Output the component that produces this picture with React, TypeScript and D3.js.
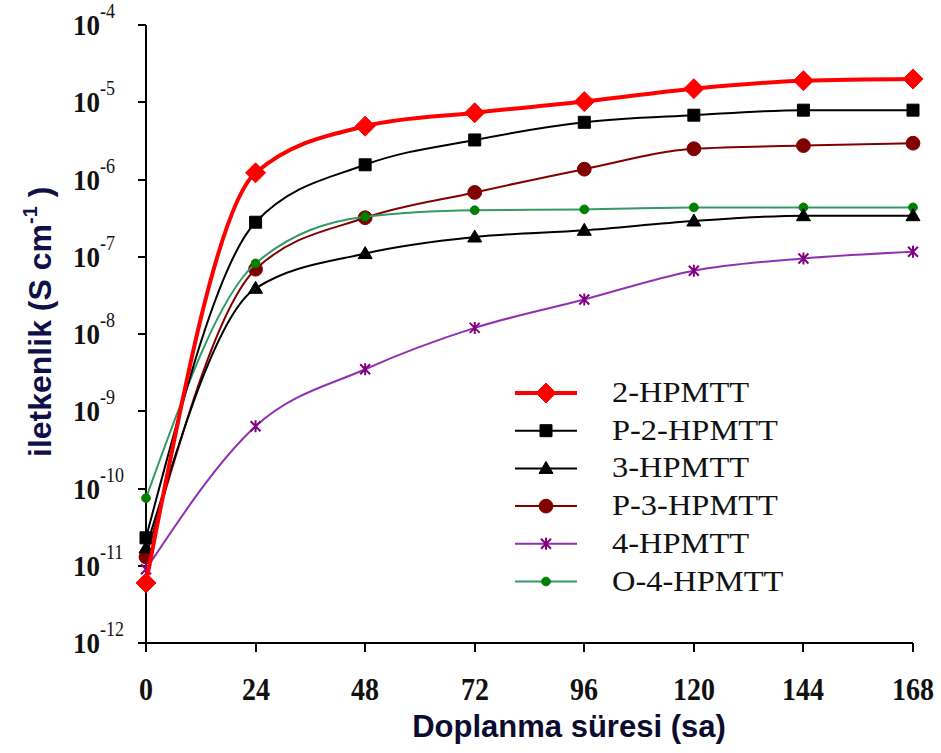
import { useEffect, useRef } from "react"
import * as d3 from "d3"

// doping time (h)
const hours = [0, 24, 48, 72, 96, 120, 144, 168]

// conductivity values (S cm-1)
const s2HPMTT = [6.0e-12, 1.22e-6, 4.9e-6, 7.3e-6, 1.02e-5, 1.5e-5, 1.9e-5, 2.0e-5]
const sP2HPMTT = [2.3e-11, 2.8e-7, 1.55e-6, 3.25e-6, 5.5e-6, 6.8e-6, 7.9e-6, 7.9e-6]
const s3HPMTT = [1.7e-11, 3.9e-8, 1.1e-7, 1.8e-7, 2.2e-7, 2.9e-7, 3.4e-7, 3.4e-7]
const sP3HPMTT = [1.3e-11, 6.9e-8, 3.2e-7, 6.8e-7, 1.36e-6, 2.5e-6, 2.75e-6, 2.95e-6]
const s4HPMTT = [9.0e-12, 6.4e-10, 3.5e-9, 1.2e-8, 2.8e-8, 6.6e-8, 9.5e-8, 1.16e-7]
const sO4HPMTT = [7.5e-11, 8.2e-8, 3.3e-7, 4.0e-7, 4.1e-7, 4.35e-7, 4.35e-7, 4.35e-7]

const yExponents = [-4, -5, -6, -7, -8, -9, -10, -11, -12]

type Marker = "diamond" | "square" | "triangle" | "octagon" | "star" | "dot"

const series: { name: string; values: number[]; line: string; fill: string; width: number; marker: Marker }[] = [
  { name: "2-HPMTT", values: s2HPMTT, line: "#ff0000", fill: "#ff0000", width: 4, marker: "diamond" },
  { name: "P-2-HPMTT", values: sP2HPMTT, line: "#000000", fill: "#000000", width: 2, marker: "square" },
  { name: "3-HPMTT", values: s3HPMTT, line: "#000000", fill: "#000000", width: 2, marker: "triangle" },
  { name: "P-3-HPMTT", values: sP3HPMTT, line: "#800000", fill: "#800000", width: 2, marker: "octagon" },
  { name: "4-HPMTT", values: s4HPMTT, line: "#9030b0", fill: "#800080", width: 2, marker: "star" },
  { name: "O-4-HPMTT", values: sO4HPMTT, line: "#339966", fill: "#008000", width: 2, marker: "dot" },
]

// drawing order (red ends on top)
const drawOrder = [3, 5, 2, 4, 1, 0]

function markerPath(m: Marker) {
  switch (m) {
    case "diamond":
      return "M0,-10L10,0L0,10L-10,0Z"
    case "square":
      return "M-6,-6H6V6H-6Z"
    case "triangle":
      return "M0,-7L7,5H-7Z"
    case "octagon":
      return d3.symbol(d3.symbolCircle, 150)()!
    case "dot":
      return d3.symbol(d3.symbolCircle, 60)()!
    case "star":
      return "M-5,-5L5,5M-5,5L5,-5M0,-6V6"
  }
}

export default function App() {
  const svgRef = useRef<SVGSVGElement>(null)
  const width = 941
  const height = 753

  useEffect(() => {
    if (!svgRef.current) return
    const svg = d3.select(svgRef.current)
    svg.selectAll("*").remove()

    const x = d3.scaleLinear().domain([0, 168]).range([146, 913])
    const y = d3.scaleLog().domain([1e-12, 1e-4]).range([643, 25])
    const axisY = 643
    const axisX = 146
    const serif = "'Liberation Serif', 'Times New Roman', serif"
    const sans = "'Liberation Sans', Arial, sans-serif"

    const g = svg.append("g")

    // axes
    g.append("line").attr("x1", axisX).attr("x2", axisX).attr("y1", y(1e-4)).attr("y2", axisY)
      .attr("stroke", "#000").attr("stroke-width", 2)
    g.append("line").attr("x1", axisX).attr("x2", x(168)).attr("y1", axisY).attr("y2", axisY)
      .attr("stroke", "#000").attr("stroke-width", 2)

    yExponents.forEach((e) => {
      const yy = Math.round(y(Math.pow(10, e)))
      g.append("line").attr("x1", axisX - 8).attr("x2", axisX).attr("y1", yy).attr("y2", yy)
        .attr("stroke", "#000").attr("stroke-width", 2)
      const lab = g.append("g").attr("transform", `translate(73,${yy + 10}) scale(1,1.12)`)
      lab.append("text").attr("x", 0).attr("y", 0)
        .style("font-family", serif)
        .style("font-weight", "bold").style("font-size", "27px").attr("fill", "#111")
        .text("10")
      lab.append("text").attr("x", 27).attr("y", -15)
        .style("font-family", serif)
        .style("font-size", "18px").attr("fill", "#111")
        .text(String(e))
    })

    hours.forEach((h) => {
      const xx = Math.round(x(h))
      g.append("line").attr("x1", xx).attr("x2", xx).attr("y1", axisY).attr("y2", axisY + 9)
        .attr("stroke", "#000").attr("stroke-width", 2)
      g.append("g").attr("transform", `translate(${xx},700) scale(1,1.15)`)
        .append("text").attr("text-anchor", "middle")
        .style("font-family", serif)
        .style("font-weight", "bold").style("font-size", "28px").attr("fill", "#111")
        .text(String(h))
    })

    // axis titles
    g.append("text").attr("x", 569).attr("y", 737).attr("text-anchor", "middle")
      .style("font-family", sans)
      .style("font-weight", "bold").style("font-size", "31px").attr("fill", "#0c0c30")
      .text("Doplanma süresi (sa)")

    const yt = g.append("text").attr("transform", "translate(51,457) rotate(-90)")
      .style("font-family", sans)
      .style("font-weight", "bold").style("font-size", "32px").attr("fill", "#101048")
    yt.append("tspan").text("iletkenlik (S cm")
    yt.append("tspan").attr("dy", -14).style("font-size", "20px").text("-1")
    yt.append("tspan").attr("dy", 14).text(" )")

    // series
    const line = d3.line<number>()
      .x((_, i) => x(hours[i]))
      .y((d) => y(d))
      .curve(d3.curveMonotoneX)

    drawOrder.forEach((idx) => {
      const s = series[idx]
      g.append("path").attr("d", line(s.values)).attr("fill", "none")
        .attr("stroke", s.line).attr("stroke-width", s.width)
      g.selectAll(null).data(s.values).enter().append("path")
        .attr("transform", (d, i) => `translate(${x(hours[i])},${y(d)})`)
        .attr("d", markerPath(s.marker))
        .attr("fill", s.marker === "star" ? "none" : s.fill)
        .attr("stroke", s.fill)
        .attr("stroke-width", s.marker === "star" ? 2 : 1)
    })

    // legend
    const legend = g.selectAll(".legend").data(series).enter().append("g")
      .attr("class", "legend")
      .attr("transform", (_, i) => `translate(0,${393 + i * 37.7})`)
    legend.append("line").attr("x1", 515).attr("x2", 577).attr("y1", 0).attr("y2", 0)
      .attr("stroke", (d) => d.line).attr("stroke-width", (d) => d.width)
    legend.append("path").attr("transform", "translate(546,0)")
      .attr("d", (d) => markerPath(d.marker))
      .attr("fill", (d) => (d.marker === "star" ? "none" : d.fill))
      .attr("stroke", (d) => d.fill)
      .attr("stroke-width", (d) => (d.marker === "star" ? 2 : 1))
    legend.append("g").attr("transform", "translate(612,9) scale(1.12,1)")
      .append("text")
      .style("font-family", serif)
      .style("font-size", "29px").attr("fill", "#111")
      .text((d) => d.name)
  }, [])

  return (
    <svg
      ref={svgRef}
      width={width}
      height={height}
      style={{ position: "absolute", left: 0, top: 0, background: "#fff" }}
    />
  )
}
